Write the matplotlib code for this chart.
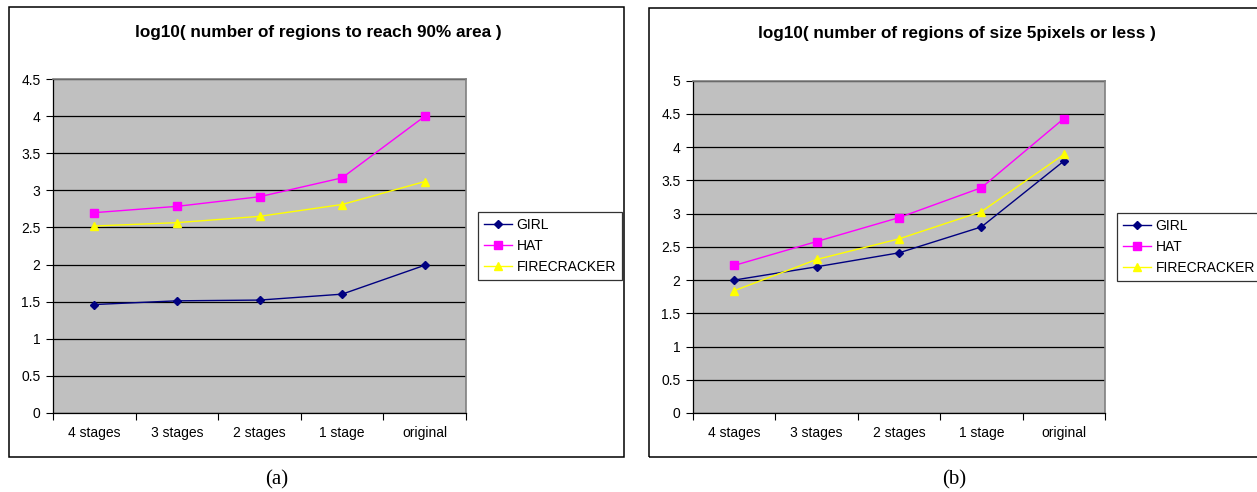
#!/usr/bin/env python3

import matplotlib
matplotlib.use("Agg")
import matplotlib.pyplot as plt
from matplotlib.patches import Rectangle

categories = ["4 stages", "3 stages", "2 stages", "1 stage", "original"]

# (a) log10(number of regions to reach 90% area)
girl_a = [1.46, 1.51, 1.52, 1.60, 1.99]
hat_a = [2.70, 2.785, 2.915, 3.17, 4.00]
fire_a = [2.52, 2.565, 2.65, 2.81, 3.12]

# (b) log10(number of regions of size 5pixels or less)
girl_b = [2.00, 2.20, 2.41, 2.80, 3.79]
hat_b = [2.22, 2.58, 2.94, 3.39, 4.43]
fire_b = [1.84, 2.31, 2.62, 3.03, 3.89]

W, H = 1257, 492
plt.rcParams["font.family"] = ["Liberation Sans", "DejaVu Sans"]


def px_rect(x0, y0, x1, y1):
    # pixel box (top-left origin) -> figure fraction [l, b, w, h]
    return [x0 / W, 1 - y1 / H, (x1 - x0) / W, (y1 - y0) / H]


def draw_panel(fig, rect, girl, hat, fire, ymax, title, title_xy, leg_xy):
    ax = fig.add_axes(rect)
    ax.set_facecolor("#C0C0C0")
    x = [i + 0.5 for i in range(len(categories))]
    ax.plot(x, girl, color="#000080", marker="D", markersize=4.5, lw=1, label="GIRL")
    ax.plot(x, hat, color="#FF00FF", marker="s", markersize=5.5, lw=1, label="HAT")
    ax.plot(x, fire, color="#FFFF00", marker="^", markersize=6, lw=1, label="FIRECRACKER")

    ax.set_xlim(0, len(categories))
    ax.set_ylim(0, ymax)
    ax.set_yticks([i * 0.5 for i in range(int(ymax * 2) + 1)])
    ax.set_yticklabels([f"{v:g}" for v in ax.get_yticks()])
    ax.set_xticks(range(len(categories) + 1))
    ax.set_xticklabels([])
    ax.set_xticks(x, minor=True)
    ax.set_xticklabels(categories, minor=True)
    ax.tick_params(axis="x", which="major", direction="out", length=5, width=0.8)
    ax.tick_params(axis="x", which="minor", length=0, pad=9.5, labelsize=10)
    ax.tick_params(axis="y", direction="out", length=5, width=0.8, pad=4, labelsize=10)

    ax.set_axisbelow(True)
    ax.yaxis.grid(True, color="black", lw=0.9)
    for s in ["top", "right"]:
        ax.spines[s].set_color("#808080")
        ax.spines[s].set_linewidth(1.2)
    for s in ["left", "bottom"]:
        ax.spines[s].set_color("black")
        ax.spines[s].set_linewidth(0.9)

    fig.text(title_xy[0] / W, 1 - title_xy[1] / H, title, ha="center", va="center",
             fontsize=12.3, fontweight="bold")
    leg = ax.legend(loc="upper left", bbox_to_anchor=(leg_xy[0] / W, 1 - leg_xy[1] / H),
                    bbox_transform=fig.transFigure, fontsize=10, frameon=True,
                    fancybox=False, edgecolor="black", handlelength=2.0,
                    handletextpad=0.35, labelspacing=0.52, borderpad=0.42,
                    borderaxespad=0)
    leg.get_frame().set_linewidth(0.9)
    return ax


def main():
    fig = plt.figure(figsize=(W / 100, H / 100), dpi=100)

    fig.add_artist(Rectangle((9 / W, 1 - 457 / H), (624 - 9) / W, (457 - 7) / H,
                             transform=fig.transFigure, fill=False, ec="black", lw=1.1))
    fig.add_artist(Rectangle((649 / W, 1 - 457 / H), (1275 - 649) / W, (457 - 8) / H,
                             transform=fig.transFigure, fill=False, ec="black", lw=1.1))

    draw_panel(fig, px_rect(53, 79.3, 466, 412.7), girl_a, hat_a, fire_a, 4.5,
               "log10( number of regions to reach 90% area )", (318, 32), (478, 212))
    draw_panel(fig, px_rect(693, 80.7, 1105, 413), girl_b, hat_b, fire_b, 5,
               "log10( number of regions of size 5pixels or less )", (957, 33), (1117, 213))

    fig.text(277 / W, 1 - 480 / H, "(a)", ha="center", va="center", fontsize=15,
             family=["Liberation Serif", "DejaVu Serif"])
    fig.text(954 / W, 1 - 480 / H, "(b)", ha="center", va="center", fontsize=15,
             family=["Liberation Serif", "DejaVu Serif"])

    fig.savefig("out.png", dpi=100)


if __name__ == "__main__":
    main()
